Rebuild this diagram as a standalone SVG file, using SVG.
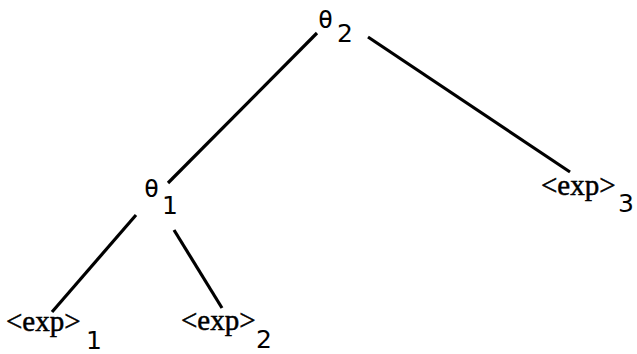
<svg xmlns="http://www.w3.org/2000/svg" width="637" height="354" viewBox="0 0 637 354">
<style>
.e{font-family:"Liberation Serif","DejaVu Serif",serif;font-size:29px;fill:#000;stroke:#000;stroke-width:0.5}
.t{font-family:"DejaVu Sans Mono","DejaVu Sans",monospace;font-size:25px;fill:#000}
.s{font-family:"DejaVu Sans","Liberation Sans",sans-serif;font-size:25px;fill:#000}
.c line{stroke:#000;stroke-width:3.2;stroke-linecap:butt}
</style>
<rect width="637" height="354" fill="#fff"/>
<g id="connectors" class="c">
<line x1="317" y1="33" x2="168" y2="183"/>
<line x1="368" y1="37" x2="570" y2="172"/>
<line x1="136" y1="215" x2="52" y2="312"/>
<line x1="174" y1="230" x2="222" y2="308"/>
</g>
<g id="theta2"><text class="t" x="318" y="28">θ</text><text class="s" x="337" y="42">2</text></g>
<g id="theta1"><text class="t" x="144" y="197">θ</text><text class="s" x="162" y="214">1</text></g>
<g id="exp1"><text class="e" x="6" y="331">&lt;exp&gt;</text><text class="s" x="86" y="349">1</text></g>
<g id="exp2"><text class="e" x="181" y="330">&lt;exp&gt;</text><text class="s" x="256" y="348">2</text></g>
<g id="exp3"><text class="e" x="541" y="195">&lt;exp&gt;</text><text class="s" x="618" y="212">3</text></g>
</svg>
